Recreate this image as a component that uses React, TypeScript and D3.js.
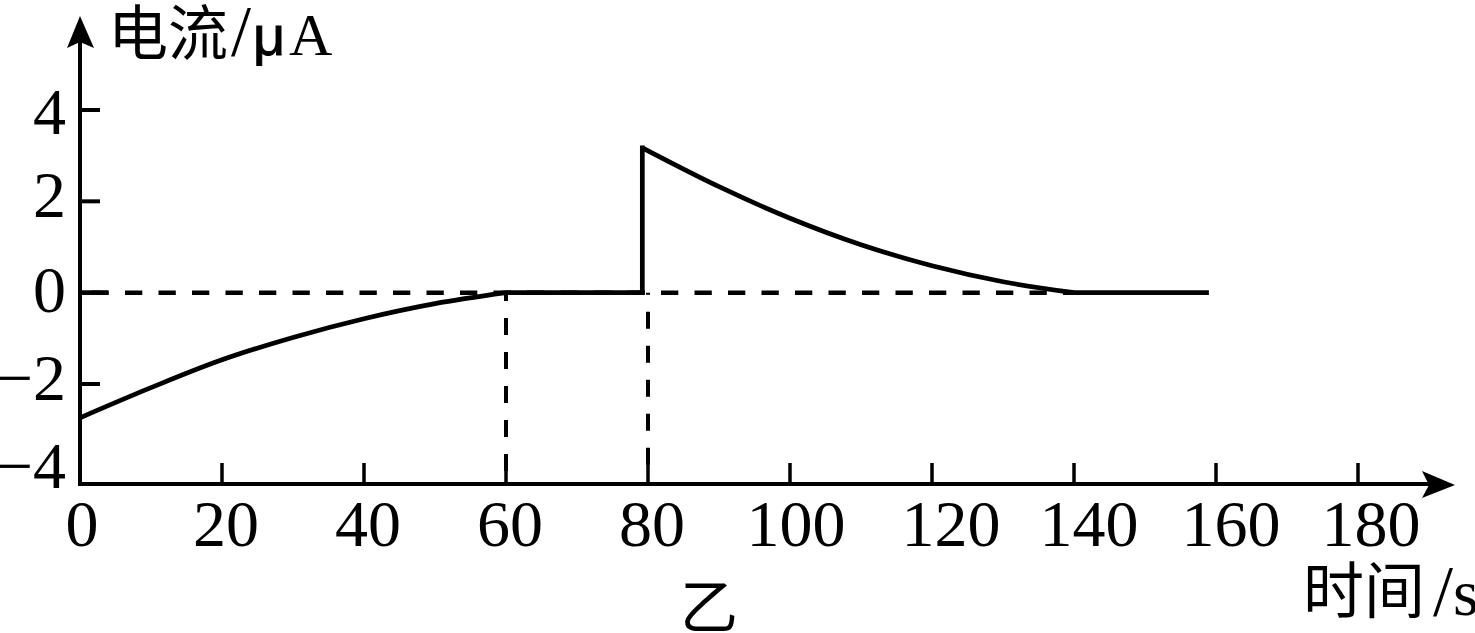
import React from 'react';
import * as d3 from 'd3';

const xTicks = [0, 20, 40, 60, 80, 100, 120, 140, 160, 180];
const yTicks = [4, 2, 0, -2];
const yLabels = [4, 2, 0, -2, -4];

// [time, current]
const dischargeCurve: [number, number][] = [
  [0, -2.74], [10, -2.08], [20, -1.47], [30, -0.98], [40, -0.57], [50, -0.24], [60, 0],
];
const restFlat: [number, number][] = [[60, 0], [79.2, 0]];
const jump: [number, number][] = [[79.2, 0], [79.2, 3.17]];
const chargeCurve: [number, number][] = [
  [79.2, 3.17], [90, 2.32], [100, 1.63], [110, 1.05], [120, 0.59], [130, 0.24], [140, 0],
];
const endFlat: [number, number][] = [[140, 0], [159, 0]];

const SERIF = '"Liberation Serif", serif';
const SANS = '"Liberation Sans", sans-serif';
const CJK = '"Noto Sans CJK SC", sans-serif';

const x = d3.scaleLinear().domain([0, 180]).range([80, 1358]);
const y = d3.scaleLinear().domain([-2, 4]).range([384, 110]);
const axisY = 484;

const smooth = d3.line<[number, number]>()
  .x(d => x(d[0]))
  .y(d => y(d[1]))
  .curve(d3.curveCatmullRom);
const straight = d3.line<[number, number]>().x(d => x(d[0])).y(d => y(d[1]));

// the labels in the picture are hand placed, not centred on their ticks
const xLabelShift = (t: number) => (t === 0 ? 2 : t < 100 ? 4 : t === 100 ? 6 : t === 120 ? 19 : t === 180 ? 13 : 15);
const yLabelBase = (t: number) => (t === -4 ? 488 : t === 4 ? y(t) + 24 : t === 0 ? y(t) + 19 : y(t) + 16);

export default function App() {
  const zeroY = y(0);
  return (
    <svg width={1475} height={633} style={{ position: 'absolute', left: 0, top: 0, background: '#fff' }}>
      {/* axes */}
      <line x1={80} x2={80} y1={40} y2={486} stroke="#000" strokeWidth={4} />
      <line x1={78} x2={1430} y1={axisY} y2={axisY} stroke="#000" strokeWidth={4} />
      <path d="M80 16 L94 48 L80 42 L67 48 Z" fill="#000" />
      <path d="M1455 485 L1422 471 L1429 485 L1422 498 Z" fill="#000" />

      {yTicks.map(t => (
        <line key={t} x1={80} x2={100} y1={y(t)} y2={y(t)} stroke="#000" strokeWidth={4} />
      ))}
      {xTicks.slice(1).map(t => (
        <line key={t} x1={x(t)} x2={x(t)} y1={463} y2={axisY} stroke="#000" strokeWidth={3.5} />
      ))}

      {/* guide lines */}
      <line x1={80} x2={x(140)} y1={zeroY} y2={zeroY} stroke="#000" strokeWidth={4.5} strokeDasharray="17.3 16.2" strokeDashoffset={22} />
      <line x1={80} x2={108} y1={zeroY} y2={zeroY} stroke="#000" strokeWidth={4.5} />
      <line x1={x(60)} x2={x(60)} y1={zeroY} y2={axisY} stroke="#000" strokeWidth={4} strokeDasharray="17 17" strokeDashoffset={8.7} />
      <line x1={x(80)} x2={x(80)} y1={zeroY} y2={axisY} stroke="#000" strokeWidth={4} strokeDasharray="17 17" strokeDashoffset={15} />

      {/* current */}
      <path d={smooth(dischargeCurve) ?? ''} fill="none" stroke="#000" strokeWidth={4.7} />
      <path d={straight(restFlat) ?? ''} fill="none" stroke="#000" strokeWidth={4.7} />
      <path d={straight(jump) ?? ''} fill="none" stroke="#000" strokeWidth={4.7} strokeLinecap="square" />
      <path d={smooth(chargeCurve) ?? ''} fill="none" stroke="#000" strokeWidth={4.7} />
      <path d={straight(endFlat) ?? ''} fill="none" stroke="#000" strokeWidth={4.7} />

      {/* tick labels */}
      {yLabels.map(t => (
        <text key={t} x={66} y={yLabelBase(t)} textAnchor="end" fontFamily={SERIF} fontSize={66}>
          {t < 0 ? `\u2212${-t}` : t}
        </text>
      ))}
      {xTicks.map(t => (
        <text key={t} x={x(t) + xLabelShift(t)} y={546} textAnchor="middle" fontFamily={SERIF} fontSize={66}>
          {t}
        </text>
      ))}

      {/* axis titles */}
      <text x={108} y={55} fontFamily={CJK} fontSize={60}>电流</text>
      <text y={55} fontFamily={SERIF} fontSize={62}>
        <tspan x={231} fontSize={72}>/</tspan>
        <tspan x={253} fontFamily={SANS} fontSize={56} stroke="#000" strokeWidth={1}>μ</tspan>
        <tspan x={289} fontSize={60}>A</tspan>
      </text>
      <text x={1303} y={613} fontFamily={CJK} fontSize={61}>时间</text>
      <text y={615} fontFamily={SERIF} fontSize={72}>
        <tspan x={1433}>/</tspan>
        <tspan x={1453} fontSize={66}>s</tspan>
      </text>
      <text x={680} y={628} fontFamily={CJK} fontSize={58}>乙</text>
    </svg>
  );
}
